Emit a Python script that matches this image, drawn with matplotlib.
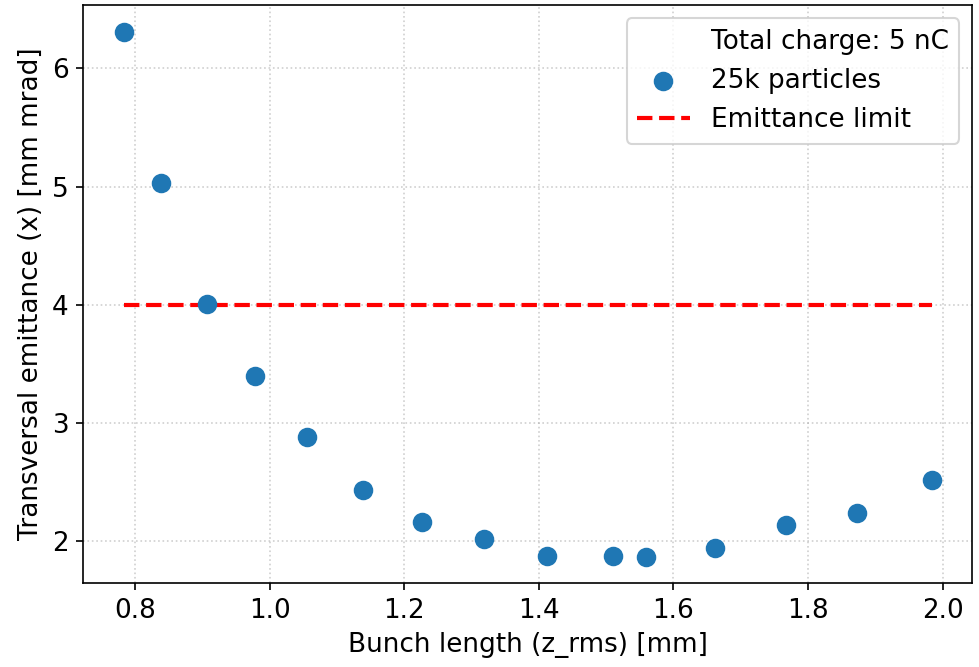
import matplotlib
matplotlib.use("Agg")
import matplotlib.pyplot as plt

# bunch length (z_rms) [mm] and transversal emittance [mm mrad]
bunch_length = [0.783, 0.839, 0.907, 0.978, 1.056, 1.139, 1.226, 1.318,
                1.412, 1.510, 1.560, 1.662, 1.767, 1.873, 1.984]
emittance = [6.31, 5.03, 4.01, 3.40, 2.88, 2.43, 2.16, 2.02,
             1.88, 1.88, 1.87, 1.94, 2.14, 2.24, 2.52]
emittance_limit = 4.0

plt.rcParams["font.size"] = 12.6

fig = plt.figure(figsize=(979 / 150, 667 / 150), dpi=150)
ax = fig.add_subplot(111)
fig.subplots_adjust(left=0.085, right=0.993, top=0.992, bottom=0.126)

ax.plot([], [], ' ', label="Total charge: 5 nC")
ax.scatter(bunch_length, emittance, s=70, color="tab:blue", label="25k particles", zorder=3)
ax.plot([bunch_length[0], bunch_length[-1]], [emittance_limit, emittance_limit],
        "r--", linewidth=2, label="Emittance limit")

ax.grid(True, linestyle=":", alpha=0.6)
ax.set_xlabel("Bunch length (z_rms) [mm]")
ax.set_ylabel("Transversal emittance (x) [mm mrad]")
ax.legend(loc="upper right")

fig.savefig("out.png", dpi=150)
